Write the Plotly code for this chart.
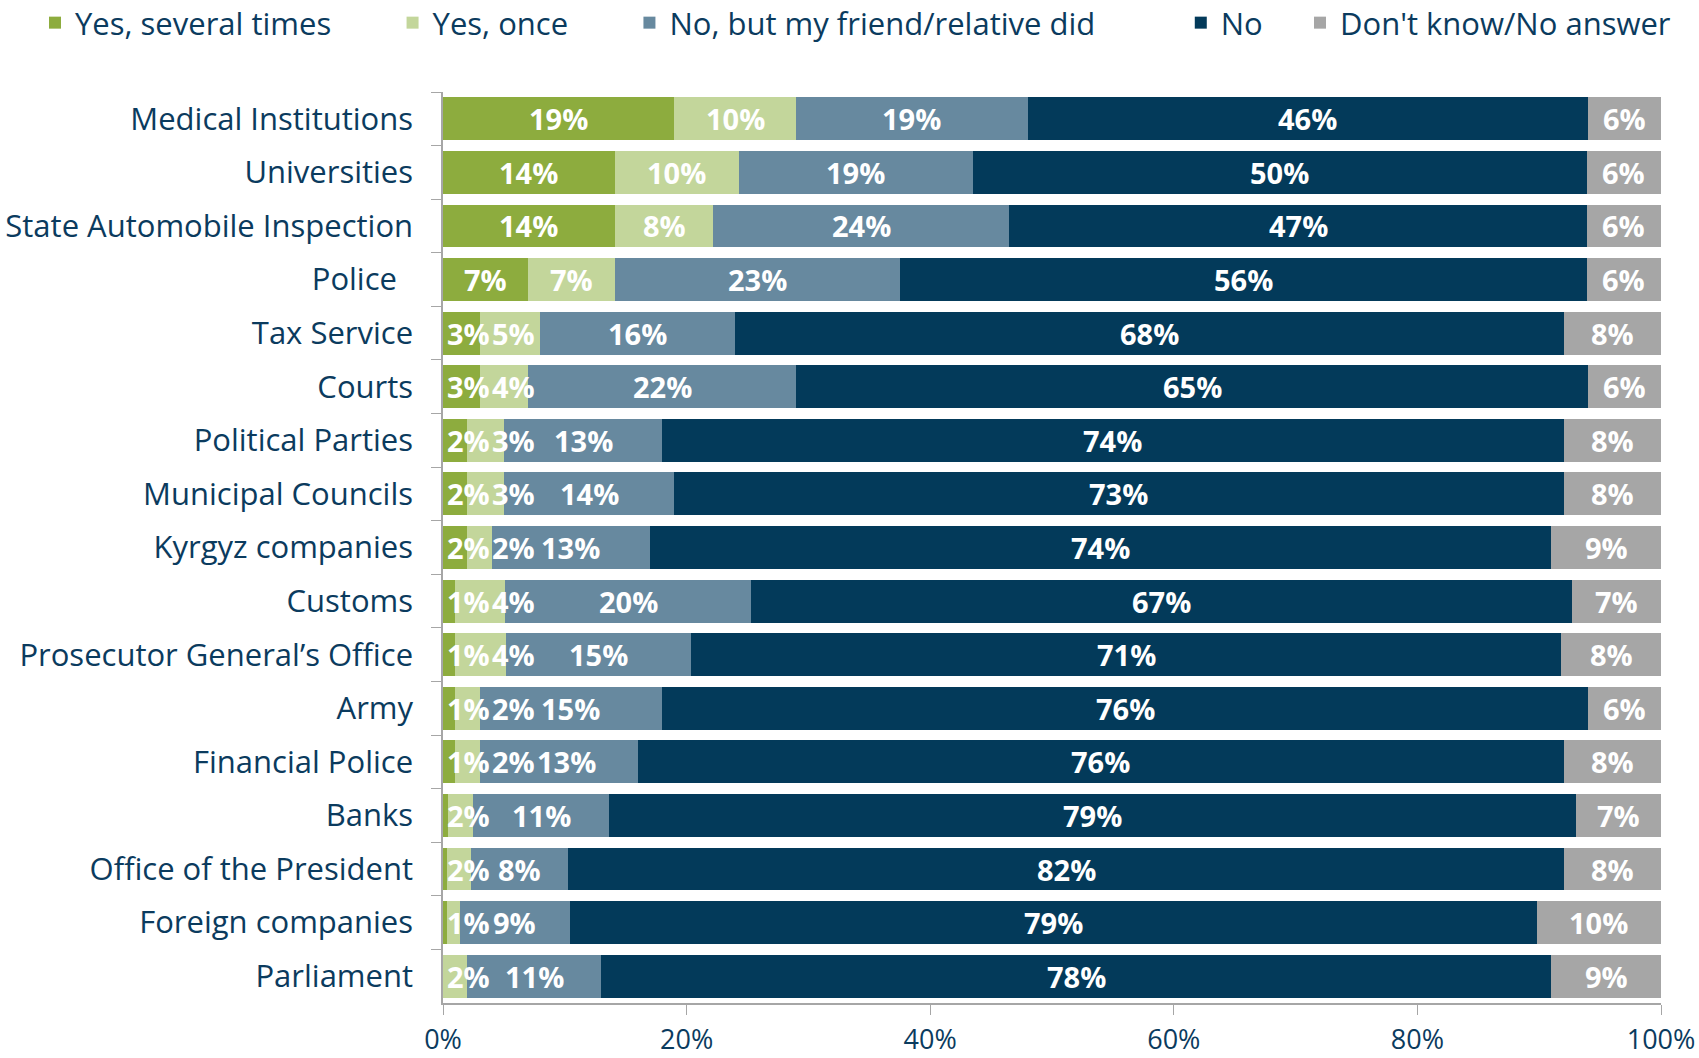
import plotly.graph_objects as go

categories = ["Medical Institutions", "Universities", "State Automobile Inspection", "Police\u00a0\u00a0",
              "Tax Service", "Courts", "Political Parties", "Municipal Councils",
              "Kyrgyz companies", "Customs", "Prosecutor General\u2019s Office", "Army",
              "Financial Police", "Banks", "Office of the President", "Foreign companies",
              "Parliament"]

yes_several = [19.0, 14.1, 14.1, 7.0, 3.0, 3.0, 2.0, 2.0, 2.0, 1.0, 1.0, 1.0, 1.0, 0.4, 0.3, 0.3, 0.0]
yes_once    = [10.0, 10.2, 8.1, 7.1, 5.0, 4.0, 3.0, 3.0, 2.0, 4.1, 4.2, 2.0, 2.0, 2.1, 2.0, 1.1, 2.0]
friend_did  = [19.0, 19.2, 24.3, 23.4, 16.0, 22.0, 13.0, 14.0, 13.0, 20.2, 15.2, 15.0, 13.0, 11.1, 8.0, 9.0, 11.0]
no          = [46.0, 50.4, 47.4, 56.4, 68.0, 65.0, 74.0, 73.0, 74.0, 67.4, 71.4, 76.0, 76.0, 79.4, 81.7, 79.4, 78.0]
dont_know   = [6.0, 6.1, 6.1, 6.1, 8.0, 6.0, 8.0, 8.0, 9.0, 7.3, 8.2, 6.0, 8.0, 7.0, 8.0, 10.2, 9.0]

series_names = ["Yes, several times", "Yes, once", "No, but my friend/relative did", "No", "Don't know/No answer"]
series_values = [yes_several, yes_once, friend_did, no, dont_know]
colors = ["#8DAC3E", "#C3D69B", "#67899F", "#033A5A", "#A6A6A6"]

x_ticks = [0, 20, 40, 60, 80, 100]
x_tick_labels = ["0%", "20%", "40%", "60%", "80%", "100%"]

TEXT = "#0B3B5E"
FONT = "Open Sans"
AXIS = "#A6A6A6"
LABEL_SIZE = 29

W, H = 1699, 1058
ML, MR, MT, MB = 443, 38, 92, 55
PX_PER_UNIT = (W - ML - MR) / 100.0

legend_pad = [7, 7, 10, 4, 0]

fig = go.Figure()
for name, vals, col, p in zip(series_names, series_values, colors, legend_pad):
    fig.add_trace(go.Bar(
        y=categories, x=vals, name=name + "\u00a0" * p, orientation="h",
        marker=dict(color=col, line=dict(width=0)),
        hoverinfo="skip",
    ))


def label_width_units(txt):
    # approximate rendered width of bold label, in axis units
    digits = len(txt) - 1
    px = digits * 0.572 * LABEL_SIZE + 0.86 * LABEL_SIZE
    return px / PX_PER_UNIT


# segment labels at segment centres, nudged apart when segments are too narrow
annotations = []
for i, cat in enumerate(categories):
    cum = 0.0
    prev_right = 2 / PX_PER_UNIT
    for vals in series_values:
        v = vals[i]
        if v >= 0.5:
            txt = f"{round(v)}%"
            w = label_width_units(txt)
            cx = max(cum + v / 2, prev_right + 3 / PX_PER_UNIT + w / 2)
            prev_right = cx + w / 2
            annotations.append(dict(
                x=cx, y=cat, xref="x", yref="y", text=txt,
                showarrow=False, xanchor="center", yanchor="middle",
                font=dict(family=FONT, size=LABEL_SIZE, color="white", weight="bold"),
            ))
        cum += v

fig.update_layout(
    barmode="stack", bargap=0.2,
    width=W, height=H,
    margin=dict(l=ML, r=MR, t=MT, b=MB, autoexpand=False),
    paper_bgcolor="white", plot_bgcolor="white",
    font=dict(family=FONT, size=31, color=TEXT),
    showlegend=True,
    legend=dict(orientation="h", x=(35 - ML) / (W - ML - MR), xanchor="left",
                y=1 + (MT - 23) / (H - MT - MB), yanchor="middle",
                font=dict(family=FONT, size=31, color=TEXT), traceorder="normal",
                itemwidth=30, bgcolor="rgba(0,0,0,0)"),
    annotations=annotations,
)
fig.update_yaxes(autorange="reversed", showline=True, linecolor=AXIS, linewidth=1.5,
                 ticks="outside", tickson="boundaries", ticklen=10, tickcolor=AXIS,
                 tickfont=dict(family=FONT, size=31, color=TEXT), showgrid=False,
                 ticklabelstandoff=22, automargin=False)
fig.update_xaxes(range=[0, 100], tickvals=x_ticks, ticktext=x_tick_labels, showline=True,
                 linecolor=AXIS, linewidth=1.5, ticks="outside", ticklen=10,
                 tickcolor=AXIS, showgrid=False, zeroline=False, automargin=False,
                 ticklabelstandoff=2,
                 tickfont=dict(family=FONT, size=27, color=TEXT))

fig.write_html("out.html", config={"displayModeBar": False},
               post_script="document.body.style.margin='0';document.body.style.overflow='hidden';")
